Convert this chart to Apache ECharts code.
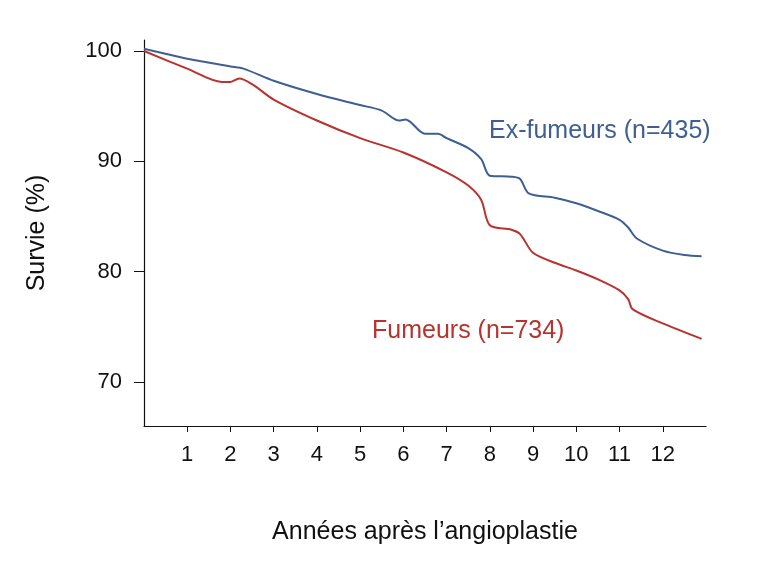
<!DOCTYPE html>
<html><head><meta charset="utf-8">
<script src="https://cdn.jsdelivr.net/npm/echarts@6/dist/echarts.min.js"></script>
<style>html,body{margin:0;padding:0;background:#fff}#c{width:768px;height:564px}</style>
</head><body><div id="c"></div>
<script>
const exX=[0,1,2,2.3,3,4,5,5.5,5.9,6.05,6.5,6.8,7,7.5,7.8,8,8.5,8.7,8.9,9.5,10,10.5,11,11.2,11.4,12,12.5,12.9];
const exY=[100.2,99.3,98.6,98.4,97.3,96.1,95.1,94.6,93.7,93.8,92.5,92.5,92.1,91.2,90.2,88.7,88.6,88.4,87.1,86.7,86.2,85.5,84.7,84.0,83.0,81.9,81.5,81.4];
const fuX=[0,1,1.8,2,2.2,2.5,3,4,5,6,7,7.5,7.8,8,8.5,8.7,9,9.5,10,10.5,11,11.2,11.3,12,12.9];
const fuY=[100,98.4,97.2,97.2,97.5,97.0,95.6,93.7,92.1,90.8,89.0,87.8,86.5,84.2,83.8,83.4,81.7,80.8,80.1,79.3,78.3,77.5,76.6,75.3,73.9];
const xTicks=[1,2,3,4,5,6,7,8,9,10,11,12];
const yTicks=[70,80,90,100];
const pair=(xs,ys)=>xs.map((x,i)=>[x,ys[i]]);
const font='"Liberation Sans", Arial, sans-serif';
const c=echarts.init(document.getElementById('c'));
c.setOption({
 animation:false,
 grid:{left:144,top:40,width:562,height:386},
 xAxis:{type:'value',min:0,max:13,name:'Années après l’angioplastie',nameLocation:'middle',nameGap:94,
  nameTextStyle:{fontSize:25,color:'#111',fontFamily:font},
  axisLine:{lineStyle:{color:'#111',width:1.2}},splitLine:{show:false},
  axisTick:{customValues:xTicks,length:6,lineStyle:{color:'#111'}},
  axisLabel:{customValues:xTicks,fontSize:22,color:'#111',fontFamily:font,margin:18}},
 yAxis:{type:'value',min:66,max:101,name:'Survie (%)',nameLocation:'middle',nameGap:94,
  nameTextStyle:{fontSize:25,color:'#111',fontFamily:font},
  axisLine:{show:true,lineStyle:{color:'#111',width:1.2}},splitLine:{show:false},
  axisTick:{show:true,customValues:yTicks,length:10,lineStyle:{color:'#111'}},
  axisLabel:{customValues:yTicks,fontSize:22,color:'#111',fontFamily:font,margin:22}},
 series:[
  {type:'line',data:pair(exX,exY),smooth:0.3,showSymbol:false,lineStyle:{color:'#3d5f92',width:2}},
  {type:'line',data:pair(fuX,fuY),smooth:0.3,showSymbol:false,lineStyle:{color:'#b8322e',width:2}}
 ],
 graphic:[
  {type:'text',left:489,top:119,style:{text:'Ex-fumeurs (n=435)',fill:'#3d5f92',fontSize:25,fontFamily:font}},
  {type:'text',left:372,top:319,style:{text:'Fumeurs (n=734)',fill:'#b8322e',fontSize:25,fontFamily:font}}
 ]
});
</script></body></html>
